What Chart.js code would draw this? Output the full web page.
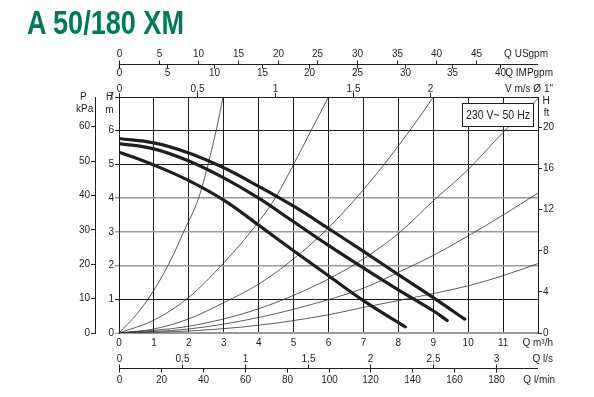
<!DOCTYPE html>
<html lang="en">
<head>
  <meta charset="UTF-8" />
  <title>A 50/180 XM</title>
  <script src="https://cdn.jsdelivr.net/npm/chart.js"></script>
  <style>
    body { margin: 0; background: #fff; }
    .wrap { position: relative; width: 594px; height: 397px; overflow: hidden; }
    canvas { position: absolute; left: 0; top: 0; }
    h1 {
      position: absolute; left: 27px; top: 6px; margin: 0;
      font: bold 33px "Liberation Sans", Arial, sans-serif; line-height: 1;
      color: #007a5c; transform: scaleX(0.82); transform-origin: left top;
      white-space: nowrap;
    }
  </style>
</head>
<body>
  <div class="wrap">
    <canvas id="pumpChart" width="594" height="397"></canvas>
    <h1>A 50/180 XM</h1>
  </div>

  <script>
    // pump curves (Q m3/h, H m) for the three speeds
    const pumpHighQ = [0, 1, 2, 3, 4, 5, 6, 7, 8, 9, 9.9];
    const pumpHighH = [5.77, 5.64, 5.34, 4.9, 4.35, 3.76, 3.1, 2.42, 1.73, 1.05, 0.41];
    const pumpMidQ = [0, 1, 2, 3, 4, 5, 6, 7, 8, 9, 9.4];
    const pumpMidH = [5.62, 5.46, 5.1, 4.6, 4.0, 3.3, 2.6, 1.93, 1.28, 0.66, 0.37];
    const pumpLowQ = [0.05, 1, 2, 3, 4, 5, 6, 7, 8.2];
    const pumpLowH = [5.35, 4.98, 4.52, 3.94, 3.2, 2.44, 1.7, 0.96, 0.18];

    // system curves (thin lines from the origin)
    const sys1Q = [0, 0.5, 1, 1.5, 1.85, 2.28, 2.55, 2.78, 2.98, 3.1];
    const sys1H = [0, 0.55, 1.27, 2.2, 3.0, 4.0, 5.0, 6.0, 7.0, 7.7];
    const sys2Q = [0, 1, 2, 3, 4, 4.5, 5, 5.5, 6, 6.2];
    const sys2H = [0, 0.38, 1.06, 2.08, 3.3, 4.05, 5.0, 6.0, 7.0, 7.4];
    const sys3Q = [0, 1, 2, 3, 4, 5, 6, 7, 8, 9, 9.3];
    const sys3H = [0, 0.12, 0.42, 0.9, 1.45, 2.2, 3.12, 4.25, 5.55, 7.0, 7.5];
    const sysWideQ = [0, 2, 4, 6, 7, 8, 9, 10, 11, 12];
    const sys4H = [0, 0.2, 0.72, 1.6, 2.2, 2.95, 3.92, 4.85, 5.95, 6.95];
    const sys5H = [0, 0.12, 0.46, 0.99, 1.33, 1.8, 2.3, 2.88, 3.5, 4.15];
    const sys6H = [0, 0.06, 0.23, 0.54, 0.76, 0.96, 1.17, 1.4, 1.7, 2.06];

    // tick labels
    const qTicks = [0, 1, 2, 3, 4, 5, 6, 7, 8, 9, 10, 11, 12];
    const hTicks = [0, 1, 2, 3, 4, 5, 6, 7];
    const kpaTicks = [0, 10, 20, 30, 40, 50, 60];
    const ftTicks = [0, 4, 8, 12, 16, 20];
    const usgpmTicks = [0, 5, 10, 15, 20, 25, 30, 35, 40, 45];
    const impgpmTicks = [0, 5, 10, 15, 20, 25, 30, 35, 40];
    const velTicks = [0, 0.5, 1, 1.5, 2];
    const lpsTicks = [0, 0.5, 1, 1.5, 2, 2.5, 3];
    const lpmTicks = [0, 20, 40, 60, 80, 100, 120, 140, 160, 180];

    // unit conversions
    const M_TO_FT = 3.28084, M_TO_KPA = 9.80665;
    const USGPM_PER_M3H = 4.403, IMPGPM_PER_M3H = 3.666;
    const M3H_PER_MS = 4.46, M3H_PER_LPS = 3.6, M3H_PER_LPM = 0.06;

    const INK = '#1e1e1e';
    const FONT = '10px "Liberation Sans", Arial, sans-serif';
    Chart.defaults.font.family = '"Liberation Sans", Arial, sans-serif';
    Chart.defaults.font.size = 10;
    Chart.defaults.color = INK;

    const pts = (qs, hs) => qs.map((q, i) => ({ x: q, y: hs[i] }));
    const comma = v => String(v).replace('.', ',');
    const setTicks = list => s => { s.ticks = list.map(v => ({ value: v })); };

    const thick = {
      borderColor: INK, borderWidth: 3.2, borderCapStyle: 'round',
      cubicInterpolationMode: 'default', tension: 0.4, order: 0
    };
    const thin = { borderColor: '#333', borderWidth: 0.8, cubicInterpolationMode: 'monotone', order: 1 };

    // extra axes, unit headers and the voltage box
    const extras = {
      id: 'extras',
      afterDraw(chart) {
        const { ctx, chartArea: a } = chart;
        const xs = chart.scales.x;
        const px = q => Math.round(xs.getPixelForValue(q)) + 0.5;
        ctx.save();
        ctx.strokeStyle = INK;
        ctx.fillStyle = INK;
        ctx.lineWidth = 1;
        ctx.font = FONT;
        ctx.textBaseline = 'middle';

        const hline = y => {
          ctx.beginPath(); ctx.moveTo(a.left, y); ctx.lineTo(a.right, y); ctx.stroke();
        };
        const scaleTicks = (vals, toQ, y0, y1, ly) => {
          ctx.textAlign = 'center';
          vals.forEach(v => {
            const X = px(toQ(v));
            ctx.beginPath(); ctx.moveTo(X, y0); ctx.lineTo(X, y1); ctx.stroke();
            ctx.fillText(comma(v), X, ly);
          });
        };
        const label = (t, x, y, align) => { ctx.textAlign = align; ctx.fillText(t, x, y); };

        // top: US gpm above, IMP gpm below one line
        const topY = Math.round(a.top - 33) + 0.5;
        hline(topY);
        scaleTicks(usgpmTicks, v => v / USGPM_PER_M3H, topY, topY - 4, a.top - 42.5);
        scaleTicks(impgpmTicks, v => v / IMPGPM_PER_M3H, topY, topY + 4, a.top - 23.5);
        label('Q USgpm', a.right + 10, a.top - 42.5, 'right');
        label('Q IMPgpm', a.right + 15, a.top - 23.5, 'right');

        // velocity ticks on the plot top
        scaleTicks(velTicks, v => v * M3H_PER_MS, a.top, a.top - 4, a.top - 8);
        label('V m/s \u00d8 1"', a.right + 15, a.top - 8, 'right');

        // bottom: l/s above, l/min below one line
        const botY = Math.round(a.bottom + 35) + 0.5;
        hline(botY);
        scaleTicks(lpsTicks, v => v * M3H_PER_LPS, botY, botY - 4, a.bottom + 26);
        scaleTicks(lpmTicks, v => v * M3H_PER_LPM, botY, botY + 4, a.bottom + 47.5);
        label('Q m\u00b3/h', a.right + 15, a.bottom + 10.5, 'right');
        label('Q l/s', a.right + 15, a.bottom + 26, 'right');
        label('Q l/min', a.right + 17, a.bottom + 47.5, 'right');

        // unit headers
        label('P', a.left - 39, a.top, 'left');
        label('kPa', a.left - 43, a.top + 12, 'left');
        label('H', a.left - 9.5, a.top, 'center');
        label('m', a.left - 9.5, a.top + 13, 'center');
        label('H', a.right + 8, a.top + 4, 'center');
        label('ft', a.right + 8.5, a.top + 16, 'center');

        // voltage box
        const bx = Math.round(a.right - 76) + 0.5, by = Math.round(a.top + 6) + 0.5;
        ctx.fillStyle = '#fff';
        ctx.fillRect(bx, by, 71, 23);
        ctx.strokeRect(bx, by, 71, 23);
        ctx.fillStyle = INK;
        ctx.translate(bx + 35.5, by + 12);
        ctx.scale(0.84, 1);
        ctx.font = '12.5px "Liberation Sans", Arial, sans-serif';
        ctx.textAlign = 'center';
        ctx.fillText('230 V~ 50 Hz', 0, 0);
        ctx.restore();
      }
    };

    new Chart(document.getElementById('pumpChart'), {
      type: 'scatter',
      data: {
        datasets: [
          { data: pts(sys1Q, sys1H), ...thin },
          { data: pts(sys2Q, sys2H), ...thin },
          { data: pts(sys3Q, sys3H), ...thin },
          { data: pts(sysWideQ, sys4H), ...thin },
          { data: pts(sysWideQ, sys5H), ...thin },
          { data: pts(sysWideQ, sys6H), ...thin },
          { data: pts(pumpHighQ, pumpHighH), ...thick },
          { data: pts(pumpMidQ, pumpMidH), ...thick },
          { data: pts(pumpLowQ, pumpLowH), ...thick }
        ]
      },
      options: {
        responsive: false,
        animation: false,
        events: [],
        showLine: true,
        layout: { padding: { left: 70, top: 97, right: 26, bottom: 44 } },
        elements: { point: { radius: 0 } },
        plugins: { legend: { display: false }, tooltip: { enabled: false } },
        scales: {
          x: {
            type: 'linear', position: 'bottom', min: 0, max: 12,
            afterBuildTicks: setTicks(qTicks),
            afterFit: s => { s.height = 20; },
            ticks: { padding: 4, maxRotation: 0, autoSkip: false, callback: v => (v === 12 ? '' : v) },
            grid: { color: INK, lineWidth: 1, drawTicks: false },
            border: { color: '#999', width: 1.5 }
          },
          y: {
            type: 'linear', position: 'left', min: 0, max: 7,
            afterBuildTicks: setTicks(hTicks),
            afterFit: s => { s.width = 24; },
            ticks: { padding: 1 },
            grid: {
              tickLength: 4,
              color: c => (c.tick && [0, 2, 3, 4].includes(c.tick.value) ? '#9a9a9a' : INK),
              lineWidth: c => (c.tick && [2, 3, 4].includes(c.tick.value) ? 1.5 : 1)
            },
            border: { color: INK }
          },
          kpa: {
            type: 'linear', position: 'left', weight: 1, min: 0, max: 7 * M_TO_KPA,
            afterBuildTicks: setTicks(kpaTicks),
            afterFit: s => { s.width = 25; },
            ticks: { padding: 1 },
            grid: { drawOnChartArea: false, tickLength: 4, color: INK },
            border: { color: INK }
          },
          ft: {
            type: 'linear', position: 'right', min: 0, max: 7 * M_TO_FT,
            afterBuildTicks: setTicks(ftTicks),
            afterFit: s => { s.width = 30; },
            ticks: { padding: 1 },
            grid: { drawOnChartArea: false, tickLength: 4, color: INK },
            border: { color: INK }
          }
        }
      },
      plugins: [extras]
    });
  </script>
</body>
</html>
